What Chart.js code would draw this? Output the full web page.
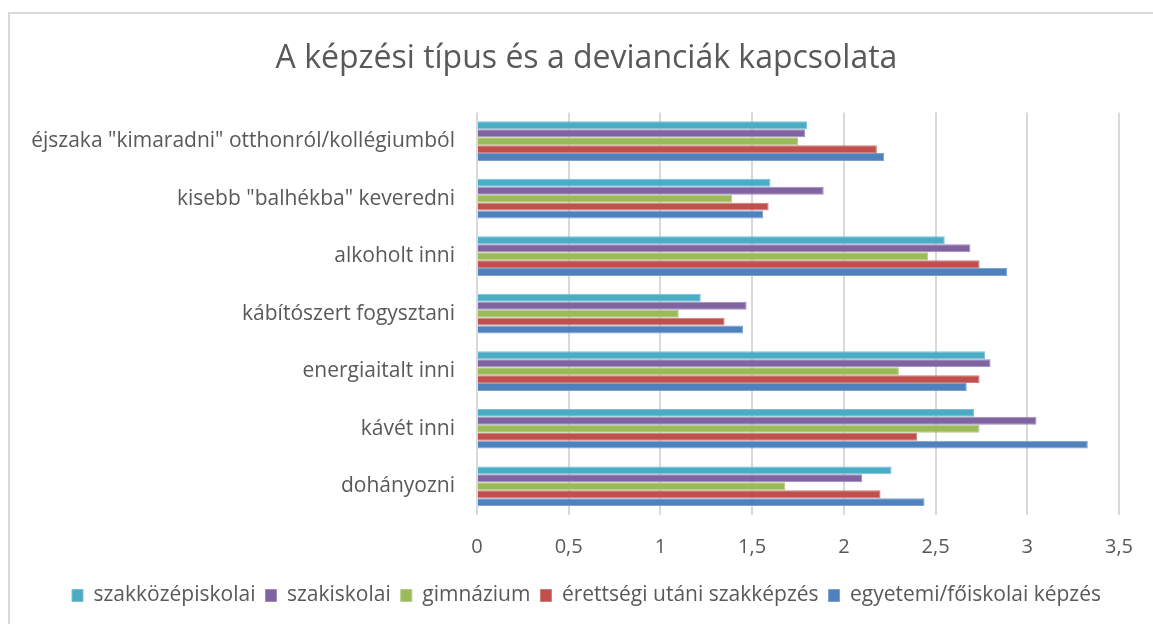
<!DOCTYPE html>
<html>
<head>
<meta charset="utf-8">
<script src="https://cdn.jsdelivr.net/npm/chart.js@4/dist/chart.umd.min.js"></script>
<style>
  html, body { margin: 0; padding: 0; background: #fff; overflow: hidden; }
  #frame { position: absolute; left: 8px; top: 12px; width: 1160px; height: 630px; border: 2px solid #d9d9d9; box-sizing: border-box; }
  #chart { position: absolute; left: 0; top: 0; }
</style>
</head>
<body>
<div id="frame"></div>
<canvas id="chart" width="1153" height="624"></canvas>
<script>
// Kategóriák (fentről lefelé)
const categories = [
  'éjszaka "kimaradni" otthonról/kollégiumból',
  'kisebb "balhékba" keveredni',
  'alkoholt inni',
  'kábítószert fogysztani',
  'energiaitalt inni',
  'kávét inni',
  'dohányozni'
];

const szakkozep   = [1.80, 1.60, 2.55, 1.22, 2.77, 2.71, 2.26];
const szakiskola  = [1.79, 1.89, 2.69, 1.47, 2.80, 3.05, 2.10];
const gimnazium   = [1.75, 1.39, 2.46, 1.10, 2.30, 2.74, 1.68];
const erettsegi   = [2.18, 1.59, 2.74, 1.35, 2.74, 2.40, 2.20];
const egyetemi    = [2.22, 1.56, 2.89, 1.45, 2.67, 3.33, 2.44];

const seriesNames = ['szakközépiskolai', 'szakiskolai', 'gimnázium', 'érettségi utáni szakképzés', 'egyetemi/főiskolai képzés'];
const xTickLabels = ['0', '0,5', '1', '1,5', '2', '2,5', '3', '3,5'];

const COLORS = ['#4bacc6', '#8064a2', '#9bbb59', '#c0504d', '#4f81bd'];
const BORDERS = ['#78c1d5', '#a08bba', '#b4cc83', '#d07c7a', '#7ba1ce'];
const TEXT = '#595959';
const FONT = '"Open Sans", sans-serif';

const seriesData = [szakkozep, szakiskola, gimnazium, erettsegi, egyetemi];

new Chart(document.getElementById('chart'), {
  type: 'bar',
  data: {
    labels: categories,
    datasets: seriesData.map((d, i) => ({
      label: seriesNames[i],
      data: d,
      backgroundColor: COLORS[i],
      borderColor: BORDERS[i],
      borderWidth: 1,
      barPercentage: 1,
      categoryPercentage: 0.69
    }))
  },
  options: {
    indexAxis: 'y',
    responsive: false,
    animation: false,
    layout: { padding: { left: 20, right: 0, top: 0, bottom: 8 } },
    plugins: {
      title: {
        display: true,
        text: 'A képzési típus és a devianciák kapcsolata',
        color: TEXT,
        font: { family: FONT, size: 32, weight: 'normal', lineHeight: 1.2 },
        padding: { top: 40, bottom: 34 }
      },
      legend: {
        position: 'bottom',
        labels: {
          color: TEXT,
          font: { family: FONT, size: 21, lineHeight: 1.2 },
          boxWidth: 11, boxHeight: 12,
          padding: 10
        }
      },
      tooltip: { enabled: false }
    },
    scales: {
      x: {
        min: 0, max: 3.5,
        ticks: {
          stepSize: 0.5,
          color: TEXT,
          padding: 20,
          font: { family: FONT, size: 20 },
          callback: (v, i) => xTickLabels[i]
        },
        grid: { color: '#d9d9d9', lineWidth: 2, drawTicks: false },
        border: { display: false },
        afterFit: s => { s.height = 60; }
      },
      y: {
        ticks: {
          color: TEXT,
          padding: 22,
          font: { family: FONT, size: 21 }
        },
        grid: { display: false, drawTicks: false },
        border: { display: false },
        afterFit: s => { s.width = 457; }
      },
      // üres jobb oldali tengely, hogy a cím középen maradjon
      y2: {
        type: 'category',
        position: 'right',
        display: true,
        ticks: { display: false },
        grid: { display: false, drawTicks: false },
        border: { display: false },
        afterFit: s => { s.width = 31; }
      }
    }
  }
});
</script>
</body>
</html>
